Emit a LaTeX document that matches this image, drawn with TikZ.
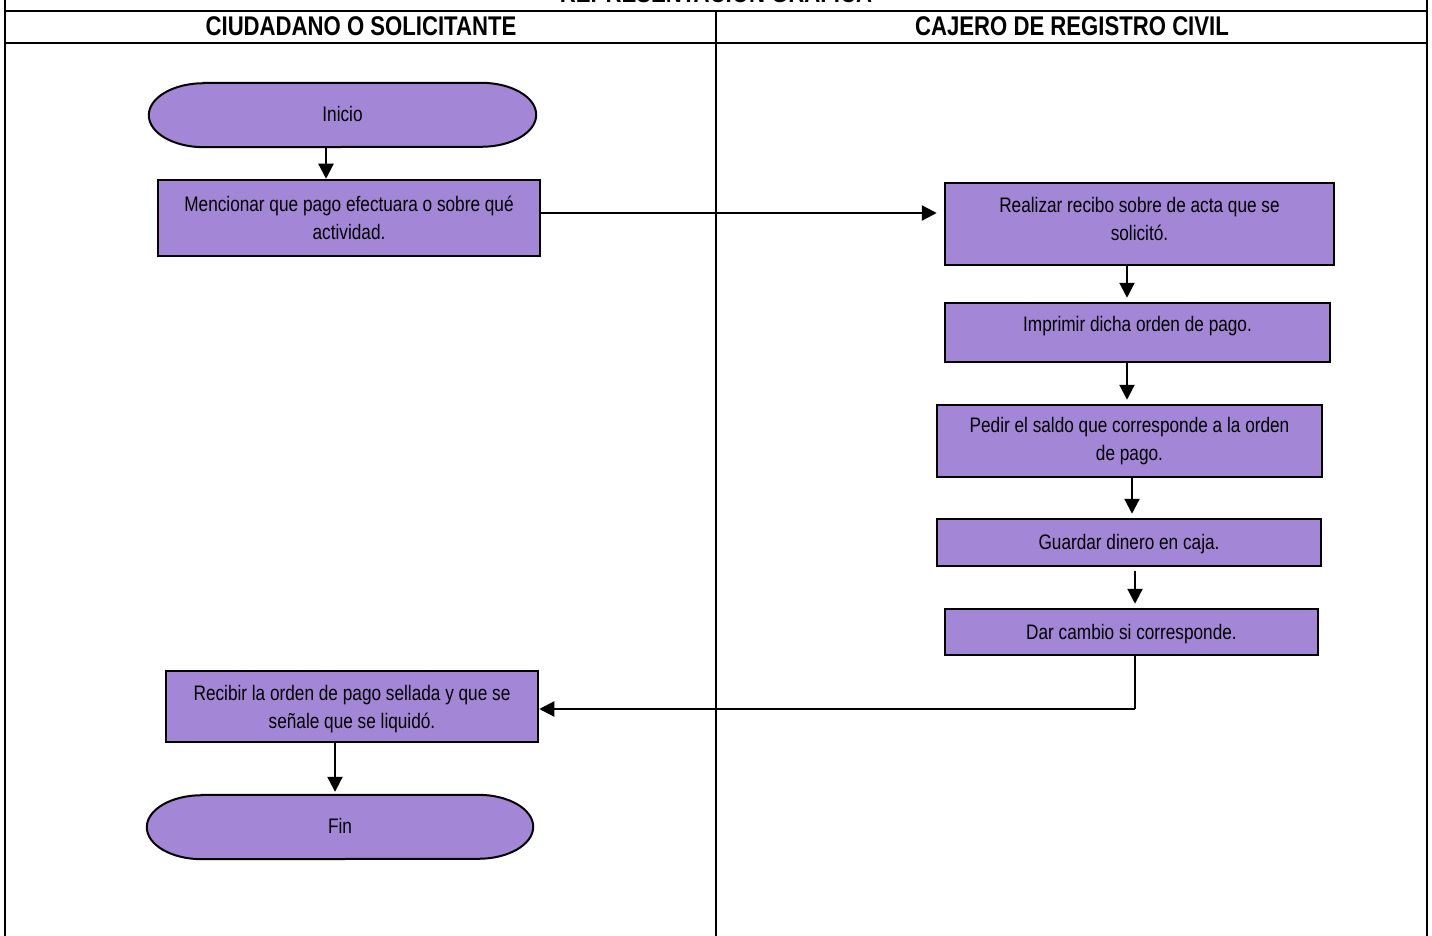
\documentclass[tikz,border=0pt]{standalone}
\usepackage{fontspec}
\setmainfont{Liberation Sans}[FakeStretch=0.82]
\usetikzlibrary{arrows.meta}
\pgfdeclarelayer{bg}
\pgfsetlayers{bg,main}
\definecolor{boxfill}{RGB}{163,134,214}
\tikzset{
  stepbox/.style={draw=black, line width=2.5pt, fill=boxfill, inner sep=0pt, align=center,
    font=\fontsize{21}{28}\selectfont},
  steptext/.style={inner sep=0pt, align=center, font=\fontsize{21}{28}\selectfont},
  termnode/.style={inner sep=0pt, font=\fontsize{21}{24}\selectfont},
  termshape/.style={draw=black, line width=2pt, fill=boxfill},
  frame/.style={line width=2pt},
  arr/.style={line width=2.2pt, -{Triangle[length=15pt,width=15pt]}},
  hdr/.style={font=\fontsize{27}{30}\selectfont\bfseries, inner sep=0pt}
}
\newcommand{\termpath}[1]{%
  \begin{pgfonlayer}{bg}
  \draw[termshape] ([xshift=55pt]#1.north west) -- ([xshift=-55pt]#1.north east)
    arc[start angle=90, end angle=-90, x radius=55pt, y radius=32pt]
    -- ([xshift=55pt]#1.south west)
    arc[start angle=270, end angle=90, x radius=55pt, y radius=32pt] -- cycle;
  \end{pgfonlayer}}
\begin{document}
\begin{tikzpicture}[x=1pt,y=-1pt]
\clip (0,0) rectangle (1432,936);
% frame
\draw[frame] (5,-5) -- (5,940);
\draw[frame] (1427,-5) -- (1427,940);
\draw[frame] (5,11) -- (1427,11);
\draw[frame] (5,43) -- (1427,43);
\draw[frame] (716,11) -- (716,940);
\node[hdr, anchor=base] (title) at (716,3) {REPRESENTACION GRAFICA};
\node[hdr] (h1) at (361,26) {CIUDADANO O SOLICITANTE};
\node[hdr] (h2) at (1072,26) {CAJERO DE REGISTRO CIVIL};
% nodes
\node[termnode, minimum width=387, minimum height=64] (ini) at (342.5,115) {\raisebox{2pt}{Inicio}};
\termpath{ini}
\node[stepbox, minimum width=382, minimum height=76] (b1) at (349,218) {Mencionar que pago efectuara o sobre qué\\actividad.};
\node[stepbox, minimum width=389, minimum height=82] (b2) at (1139.5,224) {};
\node[steptext] (t2) at (1139.5,219) {Realizar recibo sobre de acta que se\\solicitó.};
\node[stepbox, minimum width=385, minimum height=59] (b3) at (1137.5,332.5) {};
\node[steptext] (t3) at (1137.5,326) {Imprimir dicha orden de pago.};
\node[stepbox, minimum width=385, minimum height=72] (b4) at (1129.5,441) {Pedir el saldo que corresponde a la orden\\de pago.};
\node[stepbox, minimum width=384, minimum height=47] (b5) at (1129,542.5) {};
\node[steptext] (t5) at (1129,544) {Guardar dinero en caja.};
\node[stepbox, minimum width=373, minimum height=46] (b6) at (1131.5,632) {};
\node[steptext] (t6) at (1131.5,634) {Dar cambio si corresponde.};
\node[stepbox, minimum width=372, minimum height=71] (b7) at (352,706.5) {};
\node[steptext] (t7) at (352,709.5) {Recibir la orden de pago sellada y que se\\señale que se liquidó.};
\node[termnode, minimum width=386, minimum height=64] (fin) at (340,827) {\raisebox{2pt}{Fin}};
\termpath{fin}
% connectors
\draw[arr] (ini.south -| 326,0) -- (b1.north -| 326,0);
\draw[arr, shorten >=7pt] (b1.east |- 0,213) -- (b2.west |- 0,213);
\draw[arr, shorten >=4pt] (b2.south -| 1127,0) -- (b3.north -| 1127,0);
\draw[arr, shorten >=4pt] (b3.south -| 1127,0) -- (b4.north -| 1127,0);
\draw[arr, shorten >=4pt] (b4.south -| 1132,0) -- (b5.north -| 1132,0);
\draw[arr, shorten >=4pt, shorten <=4pt] (b5.south -| 1135,0) -- (b6.north -| 1135,0);
\coordinate (c1) at (1135,709);
\draw[line width=2pt] (b6.south -| c1) -- (c1);
\draw[arr] (c1) -- (b7.east |- c1);
\draw[arr, shorten >=3pt] (b7.south -| 335,0) -- (fin.north -| 335,0);
\end{tikzpicture}
\end{document}
